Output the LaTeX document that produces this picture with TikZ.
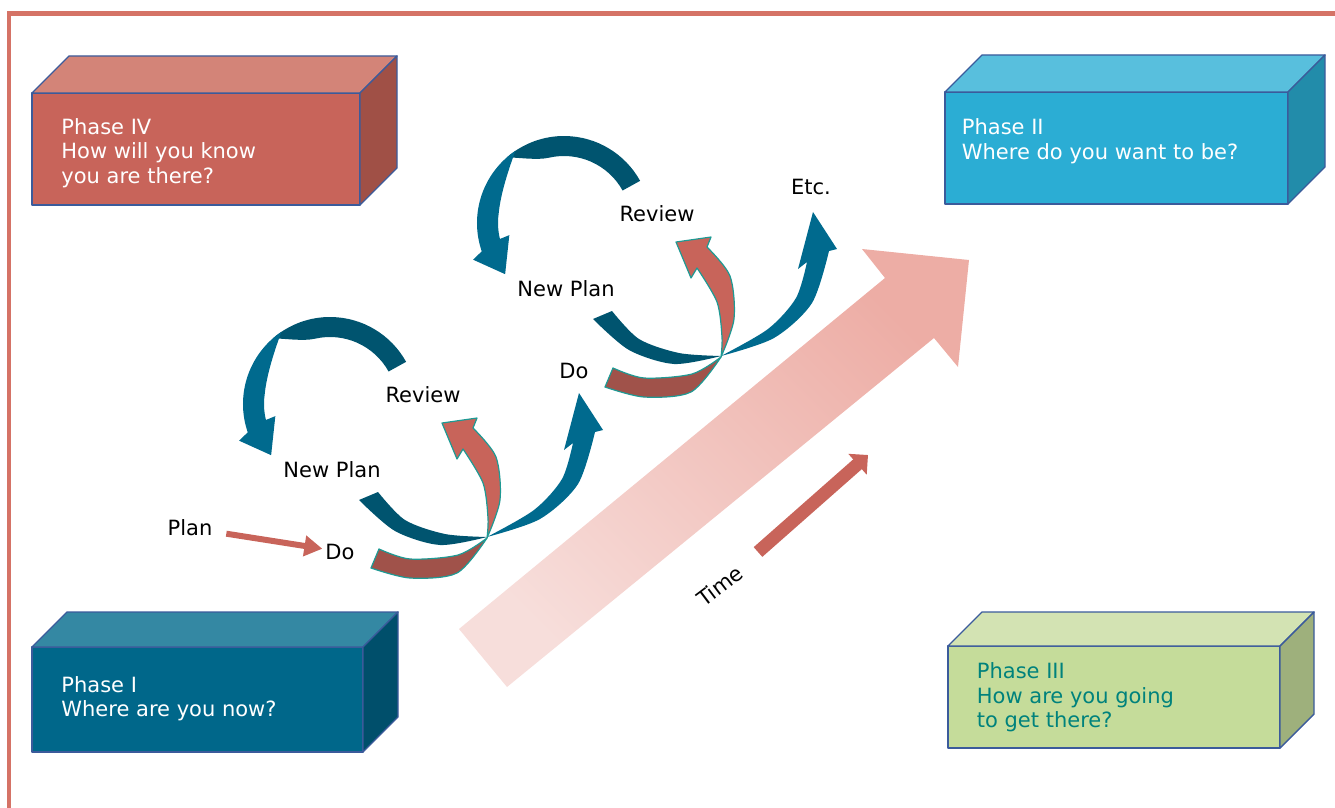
\documentclass[tikz,border=0pt]{standalone}
\usepackage{fontspec}
\setmainfont{DejaVu Sans}
\usetikzlibrary{arrows.meta}

\definecolor{framered}{HTML}{D57366}
\definecolor{boxrim}{HTML}{3B5B9B}
\definecolor{frontfour}{HTML}{C8645A}
\definecolor{topfour}{HTML}{D38478}
\definecolor{sidefour}{HTML}{A05046}
\definecolor{fronttwo}{HTML}{2BADD4}
\definecolor{toptwo}{HTML}{58BFDD}
\definecolor{sidetwo}{HTML}{228CAA}
\definecolor{frontone}{HTML}{00678A}
\definecolor{topone}{HTML}{3488A3}
\definecolor{sideone}{HTML}{004F6B}
\definecolor{frontthree}{HTML}{C5DC9A}
\definecolor{topthree}{HTML}{D3E3B3}
\definecolor{sidethree}{HTML}{9EB07C}
\definecolor{textthree}{HTML}{00827C}
\definecolor{bluedark}{HTML}{00546F}
\definecolor{bluelight}{HTML}{006A8E}
\definecolor{salmonlight}{HTML}{C8645A}
\definecolor{salmondark}{HTML}{A0524A}
\definecolor{rimteal}{HTML}{1E9A94}
\definecolor{bandtop}{HTML}{EDADA5}
\definecolor{bandbottom}{HTML}{F7DEDB}

\tikzset{
  frameline/.style={draw=framered, line width=2.25pt},
  boxedge/.style={draw=boxrim, line width=0.7pt, line join=round},
  phasetext/.style={anchor=west, align=left, inner sep=0pt, text=white,
    font=\fontsize{10.5}{12.25}\selectfont},
  steptext/.style={text=black, font=\fontsize{10.5}{12.6}\selectfont},
  ribbonline/.style={draw=rimteal, line width=0.6pt, line join=round},
  timeband/.style={top color=bandtop, bottom color=bandbottom, shading angle=-45},
  planarrow/.style={draw=salmonlight, line width=3pt,
    -{Triangle[length=9pt,width=10pt]}, shorten <=3.5pt, shorten >=-2pt},
  timearrow/.style={draw=salmonlight, line width=6.5pt,
    -{Triangle[length=7pt,width=13.5pt]}}
}

\begin{document}
\begin{tikzpicture}[x=0.5pt, y=-0.5pt]
  \useasboundingbox (0,0) rectangle (1335,808);

  \draw[frameline] (9,808) -- (9,13.5) -- (1335,13.5);

  \shade[timeband] (459,629) -- (885,278) -- (862,249) -- (969,260)
    -- (958,367) -- (934,338) -- (507,687) -- cycle;

  \foreach \xa/\ya/\xb/\yb/\sh/\ph in {32/93/360/205/37/four, 945/92/1288/204/37/two,
      32/647/363/752/35/one, 948/646/1280/748/34/three} {
    \filldraw[boxedge, fill=front\ph] (\xa,\ya) rectangle (\xb,\yb);
    \filldraw[boxedge, fill=top\ph] (\xa,\ya) -- (\xa+\sh,\ya-\sh) -- (\xb+\sh,\ya-\sh) -- (\xb,\ya) -- cycle;
    \filldraw[boxedge, fill=side\ph] (\xb,\ya) -- (\xb+\sh,\ya-\sh) -- (\xb+\sh,\yb-\sh) -- (\xb,\yb) -- cycle;
  }

  \node[phasetext] (phasefour) at (61,153) {Phase IV\\How will you know\\you are there?};
  \node[phasetext] (phasetwo) at (961.5,141) {Phase II\\Where do you want to be?};
  \node[phasetext] (phaseone) at (61,698.5) {Phase I\\Where are you now?};
  \node[phasetext, text=textthree] (phasethree) at (976.5,697.5) {Phase III\\How are you going\\to get there?};

  \coordinate (timefoot) at (758,552);
  \coordinate (timehead) at (868,455);
  \draw[timearrow] (timefoot) -- (timehead);
  \node[steptext, rotate=37] (time) at (720,586) {Time};

  \foreach \i/\dx/\dy in {1/0/0, 2/234/-181} {
    \begin{scope}[shift={(\dx,\dy)}]
      \begin{scope}[shift={(330,404)}]
        \fill[bluedark] (-29:87) arc[start angle=-29, end angle=-131, radius=87]
          .. controls (-125:80) and (-113:68) .. (-103:67)
          arc[start angle=-103, end angle=-29, radius=67] -- cycle;
        \fill[bluelight] (-124:87) arc[start angle=-124, end angle=-199, radius=87]
          -- (-202:98) -- (-221:78) -- (-192.5:56) -- (-194:66)
          arc[start angle=-194, end angle=-172, radius=66]
          .. controls (-155:70) and (-136:77) .. (-124:87) -- cycle;
      \end{scope}

      \fill[bluedark] plot[smooth] coordinates {(359,500) (395,531) (440,545) (487,537)}
        -- plot[smooth] coordinates {(487,537) (445,534) (405,520) (378,492)} -- cycle;
      \fill[bluelight] plot[smooth] coordinates {(487,537) (540,519) (578,484) (595,432)}
        -- (603,430) -- (579,393) -- (564,450) -- (573,443)
        -- plot[smooth] coordinates {(573,443) (562,479) (534,510) (487,537)} -- cycle;

      \filldraw[ribbonline, fill=salmondark] plot[smooth] coordinates {(371,568) (410,578)
          (457,573) (487,538)}
        -- plot[smooth] coordinates {(487,538) (458,555) (410,559) (379,549)} -- cycle;
      \filldraw[ribbonline, fill=salmonlight] plot[smooth] coordinates {(487,538) (500,500)
          (496,457) (473,428)}
        -- (477,418) -- (442,423) -- (457,459) -- (463,449)
        -- plot[smooth] coordinates {(463,449) (483,483) (488,518) (487,538)} -- cycle;

      \node[steptext] (review\i) at (423,394.5) {Review};
      \node[steptext] (newplan\i) at (332,470) {New Plan};
      \node[steptext] (do\i) at (340,551.5) {Do};
    \end{scope}
  }

  \node[steptext] (etc) at (811,187) {Etc.};
  \node[steptext] (plan) at (190,528) {Plan};
  \draw[planarrow] (plan) -- (do1);
\end{tikzpicture}
\end{document}
